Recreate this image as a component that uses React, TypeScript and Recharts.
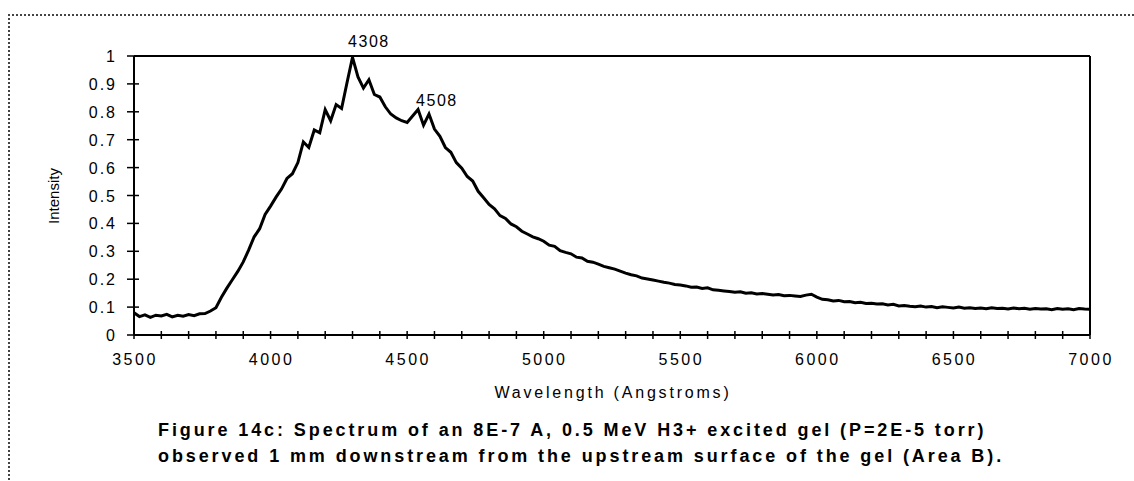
import { LineChart, Line, XAxis, YAxis, ReferenceLine, ReferenceDot } from 'recharts'

// spectrum sampled every 20 A from 3500 to 7000
const startWl = 3500
const stepWl = 20
const intensity = [
  0.080, 0.066, 0.072, 0.063, 0.071, 0.068, 0.074, 0.065, 0.071, 0.067,
  0.073, 0.069, 0.076, 0.077, 0.086, 0.098, 0.135, 0.168, 0.198, 0.228,
  0.262, 0.305, 0.352, 0.381, 0.432, 0.462, 0.494, 0.523, 0.561, 0.578,
  0.618, 0.692, 0.672, 0.735, 0.725, 0.808, 0.768, 0.826, 0.812, 0.905,
  0.995, 0.925, 0.885, 0.915, 0.862, 0.853, 0.818, 0.792, 0.778, 0.768,
  0.762, 0.785, 0.808, 0.752, 0.792, 0.738, 0.712, 0.672, 0.655, 0.618,
  0.598, 0.568, 0.552, 0.515, 0.492, 0.468, 0.452, 0.428, 0.418, 0.398,
  0.388, 0.372, 0.362, 0.352, 0.345, 0.336, 0.322, 0.318, 0.302, 0.296,
  0.291, 0.279, 0.276, 0.264, 0.261, 0.254, 0.246, 0.241, 0.236, 0.229,
  0.222, 0.216, 0.212, 0.204, 0.201, 0.197, 0.193, 0.189, 0.186, 0.181,
  0.179, 0.176, 0.171, 0.172, 0.167, 0.169, 0.162, 0.160, 0.158, 0.156,
  0.153, 0.155, 0.150, 0.151, 0.147, 0.149, 0.146, 0.143, 0.145, 0.141,
  0.142, 0.140, 0.138, 0.143, 0.146, 0.136, 0.128, 0.126, 0.122, 0.124,
  0.119, 0.120, 0.116, 0.117, 0.113, 0.114, 0.111, 0.112, 0.108, 0.110,
  0.104, 0.106, 0.103, 0.101, 0.104, 0.100, 0.102, 0.098, 0.101, 0.099,
  0.097, 0.100, 0.096, 0.098, 0.095, 0.097, 0.094, 0.098, 0.095, 0.096,
  0.093, 0.097, 0.094, 0.096, 0.092, 0.095, 0.093, 0.094, 0.091, 0.095,
  0.092, 0.094, 0.091, 0.095, 0.093, 0.092,
]

const yTicks = [0, 0.1, 0.2, 0.3, 0.4, 0.5, 0.6, 0.7, 0.8, 0.9, 1]
const xLabels = [3500, 4000, 4500, 5000, 5500, 6000, 6500, 7000]
const xTicks = Array.from({ length: 36 }, (_, i) => 3500 + i * 100)

const peakLabels = [
  { text: '4308', wl: 4360, y: 1.054 },
  { text: '4508', wl: 4609, y: 0.842 },
]

const data = intensity.map((v, i) => ({ wl: startWl + i * stepWl, v }))

const font = '"Liberation Sans", Arial, sans-serif'

const YTick = (props: any) => {
  const { y, payload } = props
  return (
    <g>
      <line x1={127} x2={139} y1={y} y2={y} stroke="#000" strokeWidth={1.5} />
      <text x={117} y={y + 6} textAnchor="end" fontSize={16} letterSpacing={2} fontFamily={font} fill="#000">
        {String(Math.round(payload.value * 10) / 10)}
      </text>
    </g>
  )
}

const XTick = (props: any) => {
  const { x, payload } = props
  const show = xLabels.includes(payload.value)
  return (
    <g>
      <line x1={x} x2={x} y1={331} y2={339} stroke="#000" strokeWidth={1.5} />
      {show && (
        <text x={x + 1} y={365} textAnchor="middle" fontSize={16} letterSpacing={2.5} fontFamily={font} fill="#000">
          {payload.value}
        </text>
      )}
    </g>
  )
}

export default function App() {
  return (
    <div style={{ position: 'absolute', left: 0, top: 0, width: 1134, height: 481, background: '#fff', fontFamily: font, overflow: 'hidden' }}>
      <div style={{ position: 'absolute', left: 8, top: 14, width: 1140, height: 480, borderTop: '2px dotted #444', borderLeft: '2px dotted #444' }} />
      <LineChart width={1134} height={481} data={data} margin={{ top: 56, right: 44, bottom: 116, left: 0 }}>
        <XAxis
          dataKey="wl"
          type="number"
          domain={[3500, 7000]}
          ticks={xTicks}
          interval={0}
          height={30}
          axisLine={{ stroke: '#000', strokeWidth: 2 }}
          tickLine={false}
          tick={<XTick />}
        />
        <YAxis
          type="number"
          domain={[0, 1]}
          ticks={yTicks}
          interval={0}
          width={134}
          axisLine={{ stroke: '#000', strokeWidth: 2 }}
          tickLine={false}
          tick={<YTick />}
        />
        <ReferenceLine y={1} stroke="#000" strokeWidth={2} />
        <ReferenceLine x={7000} stroke="#000" strokeWidth={2} />
        <Line
          type="linear"
          dataKey="v"
          stroke="#000"
          strokeWidth={3}
          strokeLinejoin="miter"
          dot={false}
          isAnimationActive={false}
        />
        {peakLabels.map((p) => (
          <ReferenceDot
            key={p.text}
            x={p.wl}
            y={p.y}
            r={0}
            ifOverflow="visible"
            label={{ value: p.text, position: 'center', fontSize: 16, letterSpacing: 1.5, fill: '#000', fontFamily: font }}
          />
        ))}
      </LineChart>
      <div style={{ position: 'absolute', left: 53, top: 196, transform: 'translate(-50%, -50%) rotate(-90deg)', fontSize: 15, whiteSpace: 'nowrap', color: '#000' }}>
        Intensity
      </div>
      <div style={{ position: 'absolute', left: 0, width: 1226, top: 383, lineHeight: '20px', textAlign: 'center', fontSize: 16, letterSpacing: 2.8, color: '#000' }}>
        Wavelength (Angstroms)
      </div>
      <div style={{ position: 'absolute', left: 158, top: 417, lineHeight: '26px', fontSize: 18, fontWeight: 'bold', letterSpacing: 2.9, color: '#000', whiteSpace: 'nowrap' }}>
        <div>Figure 14c: Spectrum of an 8E-7 A, 0.5 MeV H3+ excited gel (P=2E-5 torr)</div>
        <div>observed 1 mm downstream from the upstream surface of the gel (Area B).</div>
      </div>
    </div>
  )
}
